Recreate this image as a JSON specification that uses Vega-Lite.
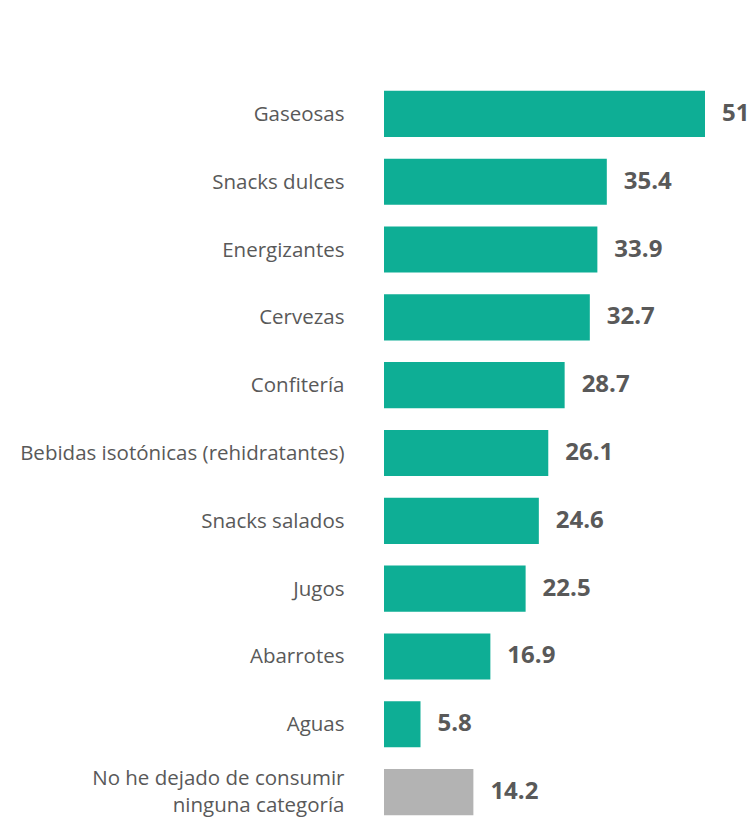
{
  "$schema": "https://vega.github.io/schema/vega-lite/v6.json",
  "width": 321,
  "height": 746,
  "autosize": {"type": "none"},
  "padding": {"left": 384, "top": 80, "right": 47, "bottom": 1},
  "background": "white",
  "data": {
    "values": [
      {"categoria": "Gaseosas", "valor": 51, "tipo": "cat"},
      {"categoria": "Snacks dulces", "valor": 35.4, "tipo": "cat"},
      {"categoria": "Energizantes", "valor": 33.9, "tipo": "cat"},
      {"categoria": "Cervezas", "valor": 32.7, "tipo": "cat"},
      {"categoria": "Confitería", "valor": 28.7, "tipo": "cat"},
      {"categoria": "Bebidas isotónicas (rehidratantes)", "valor": 26.1, "tipo": "cat"},
      {"categoria": "Snacks salados", "valor": 24.6, "tipo": "cat"},
      {"categoria": "Jugos", "valor": 22.5, "tipo": "cat"},
      {"categoria": "Abarrotes", "valor": 16.9, "tipo": "cat"},
      {"categoria": "Aguas", "valor": 5.8, "tipo": "cat"},
      {"categoria": "No he dejado de consumir ninguna categoría", "valor": 14.2, "tipo": "none"}
    ]
  },
  "encoding": {
    "y": {
      "field": "categoria",
      "type": "nominal",
      "sort": null,
      "scale": {"paddingInner": 0.32, "paddingOuter": 0.16},
      "axis": {
        "title": null,
        "domain": false,
        "ticks": false,
        "labelPadding": 40,
        "labelFont": "Open Sans",
        "labelFontSize": 20.5,
        "labelColor": "#595959",
        "labelLimit": 0,
        "labelLineHeight": 27,
        "labelOffset": {
          "condition": {"test": "datum.value == 'No he dejado de consumir ninguna categoría'", "value": -13},
          "value": 1
        },
        "labelExpr": "datum.label == 'No he dejado de consumir ninguna categoría' ? ['No he dejado de consumir', 'ninguna categoría'] : datum.label"
      }
    },
    "x": {
      "field": "valor",
      "type": "quantitative",
      "scale": {"domain": [0, 51], "nice": false},
      "axis": null
    }
  },
  "layer": [
    {
      "mark": {"type": "bar"},
      "encoding": {
        "color": {
          "field": "tipo",
          "type": "nominal",
          "scale": {"domain": ["cat", "none"], "range": ["#0EAE95", "#B3B3B3"]},
          "legend": null
        }
      }
    },
    {
      "mark": {
        "type": "text",
        "align": "left",
        "baseline": "middle",
        "dx": 17,
        "font": "Open Sans",
        "fontWeight": "bold",
        "fontSize": 24,
        "color": "#595959"
      },
      "encoding": {
        "text": {"field": "valor", "type": "quantitative", "format": ".1~f"}
      }
    }
  ],
  "config": {"view": {"stroke": null}}
}
